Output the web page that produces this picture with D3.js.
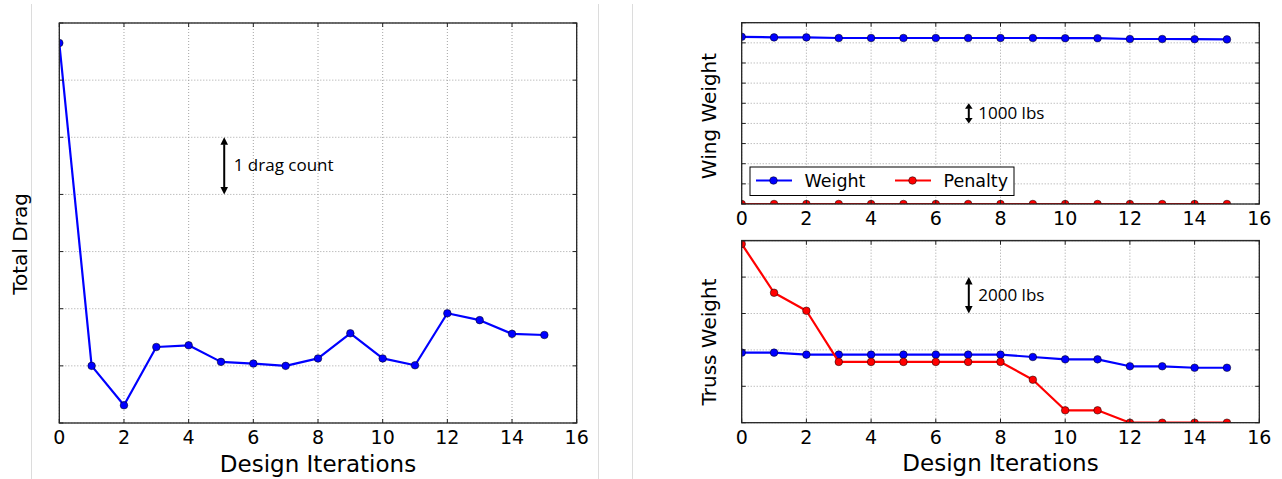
<!DOCTYPE html>
<html>
<head>
<meta charset="utf-8">
<script src="https://cdn.jsdelivr.net/npm/d3@7/dist/d3.min.js"></script>
<style>
  html, body { margin: 0; padding: 0; background: #fff; }
  svg { display: block; }
</style>
</head>
<body>
<svg id="chart" width="1282" height="479"></svg>
<script>
// Design iterations (x) shared by all three panels
const iterations = [0, 1, 2, 3, 4, 5, 6, 7, 8, 9, 10, 11, 12, 13, 14, 15];
const xTicks = [0, 2, 4, 6, 8, 10, 12, 14, 16];

// Total drag, in drag counts above an arbitrary baseline
const totalDrag = [6.65, 1.00, 0.31, 1.33, 1.36, 1.07, 1.04, 1.00, 1.13, 1.57, 1.13, 1.01, 1.92, 1.80, 1.56, 1.54];
const dragTicks = [0, 1, 2, 3, 4, 5, 6, 7];

// Wing weight and penalty, thousands of lbs above an arbitrary baseline
const wingWeight = [8.30, 8.27, 8.27, 8.24, 8.24, 8.24, 8.24, 8.24, 8.24, 8.24, 8.23, 8.23, 8.19, 8.19, 8.18, 8.17];
const wingPenalty = [0, 0, 0, 0, 0, 0, 0, 0, 0, 0, 0, 0, 0, 0, 0, 0];
const wingTicks = [0, 1, 2, 3, 4, 5, 6, 7, 8, 9];

// Truss weight and penalty, thousands of lbs above an arbitrary baseline
const trussWeight = [3.85, 3.85, 3.74, 3.74, 3.74, 3.74, 3.74, 3.74, 3.74, 3.61, 3.48, 3.48, 3.10, 3.10, 3.02, 3.02];
const trussPenalty = [9.82, 7.14, 6.15, 3.34, 3.34, 3.34, 3.34, 3.34, 3.34, 2.36, 0.68, 0.68, 0, 0, 0, 0];
const trussTicks = [0, 2, 4, 6, 8, 10];

const seriesNames = ["Weight", "Penalty"];
const BLUE = "#0000ff", RED = "#ff0000";

const svg = d3.select("#chart");
const tickFont = "'DejaVu Sans', sans-serif";
const noteFont = "'Open Sans', 'Noto Sans', sans-serif";

// Light panel separators
[31.5, 598.5, 632.5].forEach(x => {
  svg.append("line").attr("x1", x).attr("x2", x).attr("y1", 4).attr("y2", 479)
    .attr("stroke", "#dcdcdc").attr("stroke-width", 1);
});
svg.append("line").attr("x1", 741).attr("x2", 1260).attr("y1", 239.5).attr("y2", 239.5)
  .attr("stroke", "#e6e6e6").attr("stroke-width", 1);

let clipId = 0;
function panel(cfg) {
  const x = d3.scaleLinear().domain([0, 16]).range([cfg.left, cfg.right]);
  const y = d3.scaleLinear().domain(cfg.yDomain).range([cfg.bottom, cfg.top]);
  const g = svg.append("g");

  // dotted grid
  g.append("g").selectAll("line").data(xTicks).join("line")
    .attr("x1", d => x(d)).attr("x2", d => x(d))
    .attr("y1", cfg.top).attr("y2", cfg.bottom)
    .attr("stroke", "#9a9a9a").attr("stroke-width", 0.9).attr("stroke-dasharray", "1,2");
  g.append("g").selectAll("line").data(cfg.yTicks).join("line")
    .attr("x1", cfg.left).attr("x2", cfg.right)
    .attr("y1", d => y(d)).attr("y2", d => y(d))
    .attr("stroke", "#9a9a9a").attr("stroke-width", 0.9).attr("stroke-dasharray", "1,2");

  // data, clipped to the axes box
  const id = "clip" + (clipId++);
  svg.append("clipPath").attr("id", id).append("rect")
    .attr("x", cfg.left).attr("y", cfg.top)
    .attr("width", cfg.right - cfg.left).attr("height", cfg.bottom - cfg.top);
  const dg = g.append("g").attr("clip-path", `url(#${id})`);
  const line = d3.line().x((d, i) => x(iterations[i])).y(d => y(d));
  cfg.series.forEach(s => {
    dg.append("path").datum(s.values).attr("d", line)
      .attr("fill", "none").attr("stroke", s.color).attr("stroke-width", 2.2)
      .attr("stroke-linejoin", "round");
    dg.append("g").selectAll("circle").data(s.values).join("circle")
      .attr("cx", (d, i) => x(iterations[i])).attr("cy", d => y(d)).attr("r", 3.8)
      .attr("fill", s.color).attr("stroke", "#000").attr("stroke-width", 0.5);
  });

  // inward ticks on all four sides
  const tk = g.append("g").attr("stroke", "#222").attr("stroke-width", 1);
  xTicks.forEach(t => {
    tk.append("line").attr("x1", x(t)).attr("x2", x(t)).attr("y1", cfg.bottom).attr("y2", cfg.bottom - 4);
    tk.append("line").attr("x1", x(t)).attr("x2", x(t)).attr("y1", cfg.top).attr("y2", cfg.top + 4);
  });
  cfg.yTicks.forEach(t => {
    tk.append("line").attr("x1", cfg.left).attr("x2", cfg.left + 4).attr("y1", y(t)).attr("y2", y(t));
    tk.append("line").attr("x1", cfg.right).attr("x2", cfg.right - 4).attr("y1", y(t)).attr("y2", y(t));
  });

  // frame
  g.append("rect").attr("x", cfg.left).attr("y", cfg.top)
    .attr("width", cfg.right - cfg.left).attr("height", cfg.bottom - cfg.top)
    .attr("fill", "none").attr("stroke", "#222").attr("stroke-width", 1.3);

  // x tick labels
  g.append("g").selectAll("text").data(xTicks).join("text")
    .attr("x", d => x(d)).attr("y", cfg.bottom + 21)
    .attr("text-anchor", "middle").attr("font-family", tickFont).attr("font-size", 19)
    .attr("fill", "#000").text(d => d);

  if (cfg.xLabel) {
    g.append("text").attr("x", (cfg.left + cfg.right) / 2).attr("y", cfg.bottom + 48.5)
      .attr("text-anchor", "middle").attr("font-family", tickFont).attr("font-size", 23)
      .attr("fill", "#000").text(cfg.xLabel);
  }
  g.append("text")
    .attr("transform", `translate(${cfg.yLabelX},${cfg.yLabelY}) rotate(-90)`)
    .attr("text-anchor", "middle").attr("font-family", tickFont).attr("font-size", 20)
    .attr("fill", "#000").text(cfg.yLabel);

  return { x, y, g };
}

// double-headed scale arrow spanning one grid interval
function scaleArrow(p, xv, y0, y1, label, head) {
  const ax = p.x(xv), ya = p.y(y1), yb = p.y(y0);
  const g = svg.append("g");
  g.append("line").attr("x1", ax).attr("x2", ax).attr("y1", ya + head).attr("y2", yb - head)
    .attr("stroke", "#000").attr("stroke-width", 2);
  g.append("path").attr("d", `M${ax},${ya} L${ax - 3.8},${ya + head + 0.5} L${ax + 3.8},${ya + head + 0.5} Z`).attr("fill", "#000");
  g.append("path").attr("d", `M${ax},${yb} L${ax - 3.8},${yb - head - 0.5} L${ax + 3.8},${yb - head - 0.5} Z`).attr("fill", "#000");
  g.append("text").attr("x", ax + 9.5).attr("y", (ya + yb) / 2 + 5.5)
    .attr("font-family", noteFont).attr("font-size", 17).attr("fill", "#000").text(label);
}

// Left: total drag
const pDrag = panel({
  left: 59.3, right: 576.7, top: 23, bottom: 423,
  yDomain: [0, 7], yTicks: dragTicks,
  series: [{ values: totalDrag, color: BLUE }],
  xLabel: "Design Iterations", yLabel: "Total Drag", yLabelX: 26.5, yLabelY: 244
});
scaleArrow(pDrag, 5.1, 4, 5, "1 drag count", 7);

// Right top: wing weight
const pWing = panel({
  left: 741.7, right: 1259.3, top: 22.7, bottom: 204,
  yDomain: [0, 9], yTicks: wingTicks,
  series: [{ values: wingWeight, color: BLUE }, { values: wingPenalty, color: RED }],
  yLabel: "Wing Weight", yLabelX: 716, yLabelY: 116
});
scaleArrow(pWing, 7.02, 4, 5, "1000 lbs", 5);

// Legend
const lg = svg.append("g");
lg.append("rect").attr("x", 750).attr("y", 167).attr("width", 264).attr("height", 28.5)
  .attr("fill", "#fff").attr("stroke", "#000").attr("stroke-width", 1);
const legendItems = [
  { name: seriesNames[0], color: BLUE, x: 756 },
  { name: seriesNames[1], color: RED, x: 895 }
];
legendItems.forEach(it => {
  lg.append("line").attr("x1", it.x).attr("x2", it.x + 36).attr("y1", 180.5).attr("y2", 180.5)
    .attr("stroke", it.color).attr("stroke-width", 2.2);
  lg.append("circle").attr("cx", it.x + 17.5).attr("cy", 180.5).attr("r", 3.8)
    .attr("fill", it.color).attr("stroke", "#000").attr("stroke-width", 0.5);
  lg.append("text").attr("x", it.x + 48.5).attr("y", 187)
    .attr("font-family", tickFont).attr("font-size", 17.5).attr("fill", "#000").text(it.name);
});

// Right bottom: truss weight
const pTruss = panel({
  left: 741.7, right: 1259.3, top: 240.7, bottom: 422.7,
  yDomain: [0, 10], yTicks: trussTicks,
  series: [{ values: trussWeight, color: BLUE }, { values: trussPenalty, color: RED }],
  xLabel: "Design Iterations", yLabel: "Truss Weight", yLabelX: 716, yLabelY: 342
});
scaleArrow(pTruss, 7.02, 6, 8, "2000 lbs", 7);
</script>
</body>
</html>
